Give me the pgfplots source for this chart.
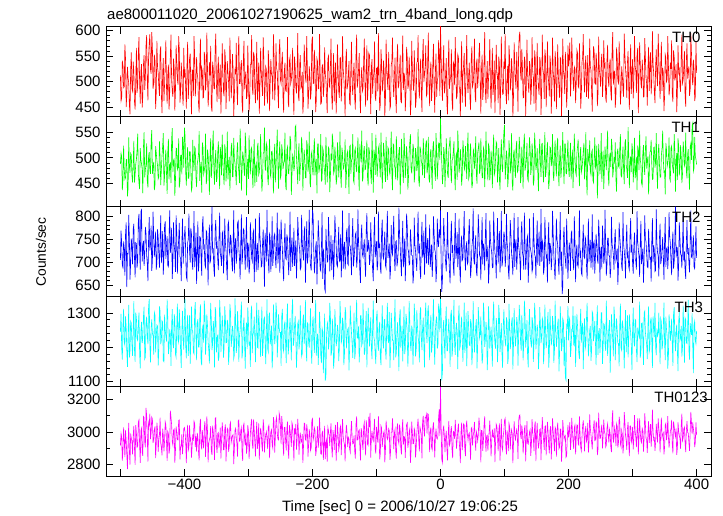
\documentclass[border=0pt]{standalone}
\usepackage{fontspec}
\setmainfont{Liberation Sans}
\usepackage{pgfplots}
\usepackage{pgfplotstable}
\pgfplotsset{compat=1.18}
\newcommand{\lab}{\fontsize{15bp}{18bp}\selectfont}
\pgfplotstableread{
t a b c d e
-500 512 488 705 1245 2915
-499 462 509 768 1297 2991
-498 468 502 742 1198 2968
-497 541 437 693 1164 2823
-496 531 455 688 1262 2890
-495 488 524 745 1312 3028
-494 490 478 731 1215 2952
-493 573 458 671 1206 2844
-492 545 461 760 1290 3010
-491 450 496 786 1259 2947
-490 472 497 646 1188 2862
-489 529 425 719 1143 2770
-488 507 440 718 1231 2931
-487 497 540 802 1323 3056
-486 455 483 752 1170 2885
-485 436 471 662 1190 2799
-484 522 509 698 1276 2990
-483 557 506 751 1271 2962
-482 486 466 735 1209 2943
-481 481 452 695 1175 2861
-480 539 491 771 1254 2978
-479 519 533 783 1334 3037
-478 461 452 709 1192 2897
-477 445 468 667 1158 2797
-476 503 488 742 1301 3042
-475 566 497 740 1286 2993
-474 478 515 688 1225 2905
-473 492 547 703 1220 2912
-472 556 470 790 1268 3060
-471 587 451 804 1301 3074
-470 497 439 728 1183 2920
-469 457 519 684 1139 2809
-468 520 496 810 1247 3005
-467 534 488 813 1274 3021
-466 449 478 701 1212 2874
-465 471 431 730 1227 2852
-464 533 521 746 1289 3095
-463 552 550 692 1318 3089
-462 484 462 719 1166 2938
-461 508 477 776 1171 2905
-460 571 488 762 1271 3148
-459 591 528 715 1289 3102
-458 502 455 697 1234 2966
-457 463 442 659 1209 2817
-456 548 503 751 1318 3060
-455 575 511 797 1340 3044
-454 593 476 725 1207 3112
-453 524 469 738 1156 2956
-452 515 534 779 1256 2995
-451 597 554 681 1281 3091
-450 566 469 703 1241 3079
-449 486 482 809 1233 2932
-448 497 492 758 1179 2958
-447 553 437 712 1302 3012
-446 542 447 732 1294 3034
-445 446 523 766 1185 2838
-444 478 510 684 1230 2927
-443 580 495 699 1265 3057
-442 529 485 771 1262 3015
-441 517 459 754 1147 2877
-440 491 463 719 1196 2949
-439 472 532 688 1319 2983
-438 560 501 745 1305 3088
-437 569 447 801 1209 2931
-436 474 478 698 1221 2902
-435 438 505 725 1277 2856
-434 518 523 767 1273 3020
-433 546 548 673 1161 2979
-432 462 446 712 1158 2880
-431 495 463 779 1295 2944
-430 536 497 788 1249 3062
-429 581 516 707 1233 3046
-428 488 470 736 1217 2941
-427 457 430 756 1339 2822
-426 514 512 693 1284 3003
-425 533 537 690 1180 2990
-424 445 458 752 1199 2866
-423 478 486 812 1252 2896
-422 551 489 720 1238 3131
-421 592 451 737 1146 3092
-420 503 536 774 1265 3045
-419 481 558 664 1311 2939
-418 470 472 701 1211 2918
-417 545 494 786 1198 3011
-416 527 497 737 1296 3019
-415 443 426 722 1284 2809
-414 482 456 679 1180 2884
-413 571 519 801 1171 3034
-412 539 518 763 1258 2996
-411 504 477 675 1327 2952
-410 494 481 722 1223 2950
-409 589 538 749 1214 3071
-408 563 442 785 1310 3074
-407 459 453 712 1262 2830
-406 476 505 708 1192 2903
-405 537 505 659 1140 2914
-404 517 468 741 1246 2987
-403 476 541 794 1306 2863
-402 453 527 696 1226 2925
-401 566 481 733 1193 3020
-400 508 559 758 1279 3027
-399 524 543 778 1340 2998
-398 487 471 717 1204 2936
-397 447 446 668 1168 2808
-396 531 499 662 1260 2978
-395 578 521 742 1294 3043
-394 466 460 749 1175 2887
-393 493 460 805 1227 2903
-392 544 512 725 1293 3041
-391 555 512 699 1152 2948
-390 491 478 774 1219 2960
-389 436 437 761 1318 2841
-388 523 443 703 1251 2911
-387 522 535 684 1246 2985
-386 472 496 738 1186 2945
-385 589 474 810 1181 3066
-384 550 521 689 1308 3052
-383 471 518 715 1331 2907
-382 497 462 764 1236 2972
-381 548 443 653 1163 2879
-380 515 489 721 1269 2994
-379 505 496 788 1282 2969
-378 458 507 680 1201 2878
-377 439 552 706 1201 2824
-376 536 455 755 1285 3033
-375 584 481 753 1325 3081
-374 483 492 711 1160 2920
-373 527 432 671 1148 2893
-372 521 530 779 1248 3011
-371 468 520 799 1266 2940
-370 469 468 730 1214 2898
-369 558 475 735 1336 3024
-368 547 485 694 1300 3066
-367 483 547 689 1179 2846
-366 500 449 768 1227 2953
-365 596 457 765 1296 3096
-364 528 516 716 1265 3008
-363 451 506 650 1215 2812
-362 476 479 747 1193 2929
-361 538 428 781 1153 2953
-360 512 503 699 1241 2967
-359 570 538 704 1329 3035
-358 452 461 756 1281 2885
-357 441 482 820 1192 2858
-356 539 525 722 1208 3039
-355 527 553 727 1276 3000
-354 487 477 684 1254 2942
-353 486 448 669 1142 2827
-352 565 498 770 1317 3083
-351 594 515 791 1305 3087
-350 494 453 734 1185 2916
-349 460 461 741 1224 2871
-348 519 510 706 1237 2990
-347 549 532 683 1161 2996
-346 466 484 751 1172 2903
-345 512 439 807 1338 2932
-344 533 521 719 1296 3026
-343 437 508 710 1186 2836
-342 489 466 692 1226 2949
-341 575 545 762 1292 3058
-340 523 495 766 1259 3001
-339 480 467 676 1170 2890
-338 471 447 713 1199 2890
-337 563 526 794 1319 3016
-336 546 514 742 1283 3047
-335 446 454 724 1213 2818
-334 498 480 687 1214 2936
-333 540 551 661 1280 3022
-332 517 458 781 1266 3014
-331 498 481 787 1149 2877
-330 461 502 724 1189 2911
-329 586 437 716 1326 3044
-328 538 475 759 1303 3058
-327 467 520 749 1201 2935
-326 492 529 701 1222 2958
-325 554 463 680 1262 2977
-324 525 463 735 1248 2983
-323 432 539 812 1167 2801
-322 470 497 676 1177 2893
-321 521 490 736 1342 3010
-320 514 470 752 1277 3022
-319 576 447 697 1184 2963
-318 483 511 717 1206 2927
-317 454 530 785 1305 2847
-316 552 488 789 1258 3069
-315 589 473 729 1158 3073
-314 496 451 708 1234 2943
-313 496 557 663 1249 2946
-312 528 519 744 1291 3009
-311 542 436 803 1333 3028
-310 459 476 695 1168 2874
-309 439 512 718 1192 2821
-308 541 503 772 1262 3037
-307 580 479 769 1286 3052
-306 485 465 721 1211 2952
-305 508 549 684 1138 2918
-304 520 527 747 1247 2996
-303 466 427 797 1272 2866
-302 474 482 688 1195 2908
-301 571 498 742 1316 3041
-300 506 459 733 1271 3004
-299 441 544 675 1205 2833
-298 467 493 694 1216 2915
-297 533 468 786 1143 2990
-296 534 516 751 1298 3045
-295 591 520 709 1321 3080
-294 489 474 702 1183 2929
-293 474 441 762 1236 2894
-292 558 500 768 1245 3077
-291 550 536 657 1289 3011
-290 481 445 716 1227 2938
-289 458 484 794 1157 2849
-288 512 489 679 1264 2987
-287 578 453 723 1330 3062
-286 463 522 741 1200 2896
-285 501 529 683 1198 2935
-284 537 467 707 1309 3052
-283 437 472 806 1263 2829
-282 495 498 755 1221 2961
-281 566 546 731 1172 3024
-280 518 481 690 1254 2992
-279 495 434 692 1318 2912
-278 472 456 738 1175 2880
-277 587 508 771 1209 3077
-276 543 511 714 1281 3030
-275 453 559 647 1287 2874
-274 486 477 763 1219 2947
-273 529 476 738 1151 2984
-272 524 528 701 1242 3001
-271 472 522 813 1339 2951
-270 457 462 729 1196 2895
-269 561 447 703 1187 3030
-268 532 495 676 1288 3041
-267 442 537 764 1301 2838
-266 499 468 747 1209 2955
-265 544 462 679 1226 3001
-264 515 512 720 1263 3013
-263 509 513 799 1139 2920
-262 465 483 692 1182 2901
-261 593 431 716 1325 3091
-260 548 499 756 1270 3063
-259 463 527 761 1209 2873
-258 491 452 711 1231 2968
-257 575 481 687 1330 3068
-256 526 518 738 1302 3090
-255 520 555 807 1171 2992
-254 478 487 697 1216 2956
-253 448 440 719 1296 2951
-252 559 504 772 1257 3117
-251 583 532 677 1243 3097
-250 503 461 725 1243 3034
-249 496 466 792 1146 2925
-248 537 526 751 1290 3098
-247 558 514 729 1312 3046
-246 469 478 686 1197 2925
-245 439 488 659 1188 2854
-244 520 494 733 1266 3027
-243 537 549 784 1274 3029
-242 482 447 709 1211 2948
-241 481 437 706 1154 2886
-240 511 515 760 1284 3018
-239 587 521 752 1327 3063
-238 460 470 702 1179 2890
-237 450 469 672 1201 2836
-236 541 492 739 1253 3041
-235 548 543 809 1285 3010
-234 496 532 681 1227 2972
-233 503 428 731 1162 2908
-232 523 468 753 1305 3056
-231 566 506 690 1341 3039
-230 476 501 719 1204 2938
-229 435 474 774 1216 2823
-228 549 484 692 1262 3022
-227 529 560 714 1291 2985
-226 490 563 747 1233 3049
-225 477 502 665 1141 2891
-224 516 476 710 1192 2957
-223 595 449 797 1269 3081
-222 471 509 765 1276 3003
-221 462 528 739 1194 2860
-220 533 455 728 1218 2964
-219 552 483 684 1322 2996
-218 487 492 688 1249 2933
-217 490 541 802 1173 2940
-216 519 518 745 1181 2986
-215 437 436 721 1279 2809
-214 462 480 704 1295 2910
-213 573 516 766 1210 3054
-212 545 497 777 1239 3052
-211 508 461 655 1337 2953
-210 498 461 721 1202 2947
-209 589 534 788 1159 3047
-208 527 524 697 1271 3012
-207 447 473 710 1268 2847
-206 474 485 752 1213 2923
-205 530 551 813 1199 3015
-204 512 452 716 1257 2979
-203 465 443 692 1313 2885
-202 481 506 682 1190 2901
-201 579 512 745 1152 3070
-200 588 479 813 1266 3081
-199 496 466 803 1290 2949
-198 497 513 726 1225 2970
-197 562 538 676 1184 3025
-196 528 466 699 1283 3008
-195 440 490 733 1337 2852
-194 464 498 745 1176 2884
-193 545 431 652 1215 2964
-192 539 527 711 1240 3035
-191 486 527 790 1149 2903
-190 486 471 758 1208 2944
-189 593 480 719 1303 3088
-188 520 492 685 1262 2994
-187 456 546 681 1176 2865
-186 458 455 730 1154 2862
-185 531 457 808 1256 2996
-184 533 519 664 1247 3003
-183 470 513 729 1125 2827
-182 490 483 707 1198 2922
-181 567 474 643 1298 3037
-180 515 448 637 1103 2832
-179 503 541 772 1114 2933
-178 470 501 739 1231 2951
-177 438 452 700 1267 2816
-176 544 486 702 1274 3029
-175 550 520 797 1194 3008
-174 492 517 756 1215 2977
-173 489 433 680 1329 2912
-172 526 463 718 1296 2999
-171 584 508 758 1176 3052
-170 473 495 683 1187 2907
-169 445 547 711 1283 2843
-168 509 530 748 1253 3011
-167 556 469 662 1138 2977
-166 461 474 713 1170 2889
-165 512 522 801 1311 3000
-164 537 502 767 1264 3043
-163 437 448 737 1203 2820
-162 484 458 695 1219 2930
-161 573 530 690 1265 3060
-160 521 511 731 1247 2986
-159 481 462 776 1160 2889
-158 468 487 702 1198 2913
-157 546 551 705 1334 3022
-156 547 465 760 1287 3037
-155 461 442 667 1214 2857
-154 500 520 721 1222 2981
-153 589 509 812 1286 3079
-152 524 478 686 1269 2973
-151 507 481 726 1148 2940
-150 477 494 744 1181 2920
-149 433 536 684 1317 2818
-148 539 441 707 1301 2975
-147 564 465 763 1197 3043
-146 485 508 773 1230 2994
-145 493 513 697 1252 2907
-144 512 481 694 1256 2966
-143 540 430 806 1133 2956
-142 457 522 737 1195 2897
-141 455 524 734 1321 2874
-140 530 469 715 1277 3002
-139 578 495 672 1240 3067
-138 493 499 752 1209 2957
-137 474 546 795 1169 2926
-136 518 456 691 1243 2931
-135 537 451 708 1301 2978
-134 466 514 728 1166 2880
-133 445 519 760 1185 2835
-132 551 483 764 1283 3049
-131 592 472 688 1338 3095
-130 488 505 706 1227 2950
-129 500 540 814 1227 2952
-128 525 470 740 1261 3005
-127 556 436 722 1156 3013
-126 472 527 679 1201 2911
-125 438 507 655 1292 2824
-124 510 491 757 1292 3023
-123 528 553 781 1205 3001
-122 481 454 717 1214 2927
-121 486 461 711 1328 2889
-120 543 512 734 1250 3036
-119 584 523 749 1178 3059
-118 495 477 698 1189 2939
-117 451 478 668 1264 2855
-116 520 503 769 1305 3071
-115 571 534 806 1142 3033
-114 463 462 723 1221 2924
-113 493 446 733 1315 2916
-112 556 521 748 1273 3094
-111 552 512 694 1203 3029
-110 509 484 705 1242 3118
-109 436 470 786 1287 2841
-108 528 449 741 1197 2966
-107 544 548 715 1166 3006
-106 476 498 682 1264 2958
-105 508 432 659 1336 2945
-104 517 516 757 1229 3012
-103 579 505 798 1219 3080
-102 470 467 711 1180 2893
-101 462 545 727 1151 2867
-100 526 503 745 1287 3031
-99 527 463 682 1307 2984
-98 481 486 697 1209 2935
-97 595 518 809 1190 3098
-96 512 524 731 1254 2996
-95 443 483 740 1274 2830
-94 455 462 688 1173 2867
-93 563 549 675 1148 3037
-92 538 497 767 1246 3024
-91 481 440 792 1322 2908
-90 490 478 714 1216 2950
-89 541 529 708 1197 2992
-88 519 511 736 1280 3005
-87 432 474 766 1281 2812
-86 467 453 693 1192 2889
-85 582 541 687 1164 3069
-84 531 489 758 1261 3017
-83 499 457 811 1329 2954
-82 484 520 709 1225 2963
-81 558 516 724 1212 3019
-80 507 474 740 1302 3008
-79 447 468 663 1140 2828
-78 452 502 683 1195 2879
-77 532 551 780 1300 2998
-76 540 468 722 1258 3000
-75 586 437 716 1221 3083
-74 496 527 763 1219 2983
-73 470 525 800 1163 2894
-72 513 485 707 1276 2994
-71 547 480 681 1339 3016
-70 469 458 744 1171 2883
-69 438 542 746 1183 2835
-68 544 505 691 1244 3026
-67 574 456 701 1273 3052
-66 487 489 726 1210 2946
-65 494 513 818 1131 2926
-64 521 521 762 1285 3045
-63 553 429 733 1311 3011
-62 461 470 700 1198 2900
-61 459 537 670 1227 2861
-60 533 496 737 1263 3013
-59 590 475 789 1159 3077
-58 484 451 689 1229 2921
-57 517 548 712 1319 2971
-56 509 516 751 1180 2968
-55 442 461 659 1196 2840
-54 476 483 712 1297 2989
-53 568 523 805 1282 3044
-52 548 501 780 1240 3055
-51 486 438 729 1144 2901
-50 493 463 723 1205 2936
-49 549 509 694 1334 3002
-48 516 530 696 1271 3019
-47 434 546 771 1208 2809
-46 458 479 745 1189 2887
-45 580 470 715 1263 3063
-44 527 494 714 1251 2998
-43 503 527 654 1150 2927
-42 482 517 672 1224 2928
-41 561 452 796 1327 3020
-40 512 472 738 1282 3006
-39 449 519 723 1174 2843
-38 465 507 701 1193 2902
-37 538 474 681 1308 2993
-36 539 485 757 1261 3040
-35 591 556 809 1229 3082
-34 491 456 719 1216 2947
-33 467 444 740 1156 2880
-32 524 522 684 1299 3029
-31 545 515 664 1317 3009
-30 478 493 742 1231 2985
-29 440 488 787 1192 2837
-28 550 466 710 1256 3064
-27 583 538 718 1286 3099
-26 499 512 768 1208 3021
-25 513 461 673 1142 2972
-24 530 488 725 1288 3089
-23 571 526 803 1330 3087
-22 472 534 697 1242 3108
-21 476 470 736 1212 2990
-20 541 481 752 1303 3112
-19 596 541 694 1322 3108
-18 496 459 716 1224 2991
-17 452 452 781 1163 2876
-16 517 508 690 1265 3003
-15 539 517 711 1294 3028
-14 462 476 738 1185 2906
-13 488 439 668 1207 2889
-12 535 519 702 1276 3027
-11 574 532 799 1339 3058
-10 487 497 761 1219 2975
-9 439 479 727 1150 2843
-8 522 455 721 1248 2968
-7 555 548 657 1278 3020
-6 470 513 684 1290 2962
-5 501 458 794 1196 2957
-4 509 486 746 1209 2978
-3 581 529 733 1327 3091
-2 552 528 771 1312 3139
-1 472 496 752 1244 2974
0 611 577 812 1341 3276
1 548 532 700 1301 3030
2 498 490 636 1104 2831
3 462 449 661 1128 2810
4 534 467 726 1258 3009
5 571 521 795 1279 3039
6 477 509 755 1212 2976
7 487 443 725 1168 2876
8 515 482 698 1281 2968
9 546 538 680 1318 3007
10 454 501 734 1190 2897
11 436 469 808 1190 2824
12 529 461 711 1247 2980
13 582 516 716 1283 3068
14 486 526 680 1225 2918
15 503 541 654 1143 2931
16 510 478 749 1294 3003
17 563 451 789 1309 3035
18 463 495 720 1173 2890
19 443 498 737 1199 2838
20 538 512 692 1266 3003
21 534 532 671 1338 2999
22 493 470 742 1208 2957
23 587 437 806 1178 3074
24 521 503 707 1253 2995
25 468 508 721 1271 2897
26 472 457 765 1229 2953
27 553 553 689 1137 3011
28 547 520 718 1286 3051
29 491 471 794 1322 2952
30 485 484 687 1196 2897
31 430 517 656 1204 2808
32 516 498 739 1263 3001
33 579 446 757 1289 3057
34 459 467 704 1218 2888
35 511 534 707 1158 2963
36 532 514 758 1239 3050
37 556 480 810 1330 3043
38 480 476 715 1184 2892
39 451 523 682 1216 2851
40 526 491 733 1301 3032
41 591 459 745 1145 3069
42 497 522 696 1223 2986
43 478 549 700 1305 2949
44 512 459 761 1258 2986
45 537 465 793 1207 2994
46 468 505 722 1205 2933
47 444 528 666 1282 2827
48 543 484 689 1269 3021
49 569 441 733 1148 3028
50 490 450 747 1190 2917
51 496 513 816 1334 2977
52 519 517 706 1248 2998
53 584 479 695 1185 3062
54 473 493 738 1228 2957
55 460 542 758 1261 2884
56 534 468 680 1282 3002
57 545 450 670 1139 2986
58 487 509 726 1201 2944
59 509 519 803 1317 2980
60 552 530 764 1276 3088
61 576 469 714 1226 3045
62 501 478 711 1236 2995
63 437 538 661 1290 2812
64 523 496 743 1214 3009
65 553 461 797 1153 3008
66 464 461 695 1173 2883
67 485 520 740 1330 2944
68 537 515 730 1299 3041
69 597 443 682 1201 3096
70 484 482 753 1221 2963
71 458 551 806 1273 2878
72 511 503 702 1252 2976
73 540 478 712 1134 2979
74 466 456 736 1187 2884
75 506 526 654 1319 2955
76 529 521 684 1264 3001
77 583 456 790 1196 3070
78 491 474 749 1230 2958
79 447 514 731 1260 2849
80 517 492 721 1205 2947
81 566 441 688 1144 3016
82 474 510 689 1281 2970
83 492 545 809 1333 2967
84 541 467 758 1245 3022
85 438 473 719 1211 2814
86 495 499 712 1196 2939
87 572 531 665 1285 3048
88 520 527 740 1267 3036
89 510 452 795 1157 2979
90 458 483 697 1214 2881
91 549 519 733 1323 3002
92 535 458 767 1291 3053
93 435 438 678 1186 2823
94 488 501 718 1228 2958
95 588 536 811 1270 3080
96 512 485 691 1182 2905
97 475 472 702 1140 2887
98 476 519 734 1259 2977
99 539 551 766 1310 3007
100 525 564 756 1240 3071
101 593 458 690 1215 3084
102 481 479 708 1203 2913
103 456 514 804 1287 2862
104 509 498 742 1276 3009
105 531 443 728 1152 2961
106 463 463 681 1171 2882
107 571 534 663 1326 3053
108 544 512 728 1262 3031
109 483 470 791 1195 2892
110 497 488 759 1219 2981
111 546 548 719 1273 3013
112 518 452 703 1287 2987
113 432 436 672 1136 2807
114 470 506 735 1206 2928
115 577 516 806 1314 3066
116 536 481 690 1245 2997
117 503 461 738 1203 2946
118 486 519 749 1228 2978
119 558 533 684 1288 3021
120 513 472 714 1270 2984
121 441 475 797 1147 2833
122 562 496 737 1231 3067
123 590 541 723 1323 3100
124 598 513 706 1283 3105
125 517 451 661 1220 2982
126 502 466 764 1190 2955
127 564 522 788 1294 3040
128 527 489 721 1253 3002
129 468 440 712 1162 2868
130 469 524 684 1212 2934
131 549 547 807 1336 3016
132 540 475 742 1296 3041
133 433 483 684 1199 2819
134 491 501 709 1225 2948
135 582 529 749 1279 3067
136 516 460 756 1176 2930
137 496 455 656 1142 2924
138 478 497 698 1259 2957
139 540 540 794 1311 3000
140 531 516 733 1237 3014
141 455 467 725 1217 2852
142 485 482 717 1199 2924
143 587 528 679 1288 3079
144 520 509 686 1272 2996
145 507 446 806 1158 2960
146 457 456 748 1210 2882
147 561 549 717 1329 3038
148 546 521 712 1289 3064
149 441 476 665 1194 2820
150 493 486 740 1222 2977
151 576 519 790 1266 3055
152 511 469 694 1248 2955
153 489 435 734 1137 2899
154 474 504 766 1186 2934
155 548 537 692 1317 3014
156 538 490 719 1265 3019
157 435 463 815 1212 2826
158 482 527 701 1230 2977
159 592 528 746 1285 3091
160 524 474 738 1278 2998
161 514 452 673 1151 2950
162 466 498 689 1197 2889
163 563 550 797 1324 3032
164 549 463 753 1255 3036
165 450 474 710 1198 2856
166 490 511 714 1213 2968
167 579 531 656 1276 3062
168 515 480 745 1302 3002
169 496 439 786 1141 2913
170 471 456 696 1179 2867
171 551 521 741 1312 3010
172 533 519 732 1244 3035
173 437 484 683 1206 2830
174 487 495 708 1221 2950
175 586 546 811 1291 3083
176 519 468 760 1267 3003
177 502 455 716 1155 2946
178 461 507 683 1192 2881
179 560 534 662 1336 3029
180 537 486 725 1250 3018
181 446 464 794 1201 2847
182 494 523 749 1226 2994
183 573 539 738 1270 3057
184 512 477 702 1283 2982
185 491 445 673 1130 2896
186 468 497 737 1185 2906
187 547 524 808 1319 3018
188 545 461 692 1261 3017
189 432 478 722 1189 2816
190 499 510 631 1208 2900
191 584 550 647 1284 3072
192 521 483 754 1276 3009
193 510 449 776 1145 2953
194 476 527 718 1230 2972
195 558 527 704 1112 2978
196 528 470 686 1105 2844
197 449 469 794 1269 2852
198 484 504 741 1253 2963
199 571 535 664 1320 3043
200 530 481 705 1220 2966
201 548 463 742 1286 2998
202 577 493 728 1279 3061
203 471 529 681 1172 2889
204 503 458 760 1197 2946
205 586 490 768 1251 3087
206 541 516 711 1247 3010
207 503 441 703 1319 2941
208 482 489 683 1208 2895
209 529 547 799 1205 3026
210 525 501 747 1292 3043
211 458 472 657 1143 2861
212 496 466 721 1229 2964
213 562 508 738 1297 3044
214 556 521 695 1264 3042
215 491 536 690 1223 2925
216 488 478 738 1183 2919
217 575 445 812 1166 3096
218 519 507 709 1258 2983
219 447 521 725 1312 2902
220 474 472 676 1214 2883
221 538 479 672 1258 2968
222 548 495 741 1271 3040
223 593 513 781 1137 3071
224 509 529 712 1235 3002
225 479 458 709 1284 2880
226 533 483 754 1196 3001
227 551 550 748 1206 3037
228 470 460 693 1283 2941
229 506 427 663 1329 2954
230 552 517 730 1248 3056
231 466 496 794 1174 2872
232 497 490 701 1209 2939
233 584 534 727 1249 3108
234 529 474 748 1262 3024
235 523 467 688 1161 2983
236 483 511 717 1189 2938
237 441 515 803 1303 2893
238 516 456 684 1297 2987
239 569 452 740 1218 3029
240 560 498 745 1242 3072
241 497 540 675 1276 2946
242 495 481 711 1215 2951
243 556 486 761 1148 3062
244 537 524 739 1270 3053
245 452 421 706 1322 2857
246 476 469 697 1178 2892
247 588 527 792 1237 3119
248 524 502 758 1256 3024
249 512 468 658 1183 2960
250 490 487 719 1225 2962
251 540 548 733 1301 3018
252 555 453 686 1301 3045
253 470 491 779 1152 2898
254 501 514 742 1203 2977
255 581 439 697 1268 3075
256 529 479 708 1265 3003
257 534 522 813 1209 2987
258 468 496 731 1190 2907
259 459 476 671 1336 2918
260 541 519 694 1247 3023
261 572 553 752 1175 3048
262 504 467 752 1221 2981
263 489 445 715 1259 2934
264 532 500 713 1279 3015
265 545 510 666 1126 2991
266 479 482 685 1206 2906
267 463 537 798 1296 2876
268 563 522 738 1258 3073
269 597 462 729 1221 3133
270 494 475 716 1174 2934
271 518 499 684 1318 2962
272 520 493 749 1287 3027
273 449 530 771 1163 3005
274 472 458 702 1232 2912
275 567 434 708 1284 3052
276 546 510 729 1249 3035
277 501 518 651 1212 2903
278 497 484 690 1211 2935
279 579 481 786 1145 3094
280 535 519 755 1266 3063
281 455 546 735 1327 2925
282 481 465 714 1197 2907
283 530 463 690 1191 3009
284 514 499 681 1278 2987
285 483 522 808 1262 2867
286 470 476 738 1215 2917
287 594 449 724 1139 3122
288 553 528 706 1242 3060
289 526 536 665 1308 2979
290 505 486 744 1185 2947
291 468 478 781 1230 2889
292 538 461 712 1293 3020
293 560 560 719 1171 3061
294 485 507 690 1226 2930
295 445 441 683 1296 2851
296 527 493 757 1263 3036
297 573 503 795 1242 3037
298 476 472 721 1207 2936
299 514 528 738 1134 2956
300 544 515 698 1250 3031
301 467 452 675 1315 2893
302 500 482 735 1219 2962
303 589 539 764 1203 3104
304 531 460 708 1281 3006
305 521 474 702 1278 2968
306 478 502 684 1192 2906
307 552 437 810 1157 3013
308 566 524 746 1257 3083
309 438 516 726 1243 2861
310 508 476 713 1233 2964
311 577 553 668 1333 3083
312 536 495 740 1170 2997
313 496 489 789 1185 2944
314 487 451 696 1269 2934
315 543 446 713 1271 3027
316 523 509 729 1224 3000
317 470 525 656 1149 2879
318 471 486 703 1300 2961
319 585 467 801 1305 3115
320 549 517 751 1244 3049
321 508 542 744 1224 2961
322 496 479 718 1209 2951
323 453 493 690 1166 2870
324 526 503 688 1262 2996
325 568 429 772 1319 3066
326 482 466 737 1187 2933
327 532 511 707 1196 2993
328 557 513 709 1276 3048
329 475 535 658 1287 2908
330 501 488 745 1218 2979
331 599 458 795 1140 3138
332 535 459 700 1290 3001
333 516 520 736 1258 2952
334 479 521 727 1230 2962
335 458 481 680 1329 2883
336 529 492 682 1200 2936
337 563 548 814 1177 3049
338 510 474 741 1255 2993
339 491 440 721 1233 2935
340 594 510 713 1239 3084
341 547 527 669 1301 3021
342 499 486 753 1221 2986
343 466 462 783 1151 2874
344 536 463 696 1283 3009
345 578 505 706 1274 3088
346 482 518 729 1194 2963
347 527 553 754 1208 2985
348 518 497 707 1260 2995
349 442 472 662 1330 2861
350 470 474 747 1216 2905
351 553 429 797 1163 3042
352 547 529 689 1289 3053
353 500 516 729 1252 2949
354 504 483 732 1231 2982
355 589 489 685 1138 3097
356 532 501 716 1175 2966
357 473 540 808 1296 2903
358 487 460 755 1264 2952
359 537 455 741 1219 3006
360 525 519 700 1243 3017
361 581 523 672 1283 3074
362 476 488 738 1212 2925
363 460 478 766 1146 2868
364 561 470 686 1296 3064
365 548 546 701 1317 3033
366 502 512 745 1227 2996
367 512 434 820 1189 2970
368 534 494 710 1251 3022
369 440 509 732 1266 2858
370 479 457 731 1189 2902
371 571 538 660 1131 3059
372 518 523 693 1275 3004
373 524 466 786 1302 2978
374 491 481 752 1220 2959
375 480 525 717 1227 2895
376 548 502 715 1262 3038
377 592 451 687 1173 3113
378 497 468 737 1201 2946
379 503 532 800 1321 2962
380 529 514 704 1248 3019
381 560 485 723 1155 3030
382 473 490 684 1286 2933
383 451 549 664 1280 2876
384 541 475 741 1213 3009
385 575 460 791 1211 3067
386 506 508 718 1257 2995
387 519 517 730 1338 2994
388 530 467 697 1191 2932
389 472 438 678 1164 2883
390 485 521 748 1270 3002
391 595 528 812 1249 3124
392 556 496 711 1236 3057
393 508 563 709 1299 2987
394 493 568 736 1204 3058
395 543 474 758 1125 3019
396 524 480 690 1266 2986
397 462 541 686 1276 2907
398 471 503 726 1219 2935
399 578 497 777 1210 3058
400 517 487 709 1248 2980
}\lc
\pgfplotsset{
  panel/.style={
    scale only axis, width=605bp, height=89.8bp,
    anchor=south west,
    xmin=-522.5, xmax=422.5,
    xtick={-500,-400,...,400},
    xticklabels={},
    tick align=inside, tick pos=both,
    major tick length=7bp, minor tick length=4bp,
    every tick/.style={black, line width=0.7bp},
    axis line style={black, line width=1bp},
    tick label style={font=\lab},
    /pgf/number format/assume math mode=true,
    /pgf/number format/1000 sep={},
    yticklabel style={xshift=-2bp},
    clip=true,
  },
  curve/.style={line width=0.6bp},
}
\begin{document}
\begin{tikzpicture}
\useasboundingbox (0bp,0bp) rectangle (723bp,516bp);
\node[anchor=base west, font=\lab, inner sep=0pt] at (107bp,496bp) {ae800011020\_20061027190625\_wam2\_trn\_4band\_long.qdp};
\node[anchor=base, font=\lab, inner sep=0pt] at (400bp,5bp) {Time [sec] 0 = 2006/10/27 19:06:25};
\node[rotate=90, anchor=center, font=\fontsize{13.8bp}{16bp}\selectfont, inner sep=0pt] at (41bp,264bp) {Counts/sec};
% TH0
\begin{axis}[panel, at={(106bp,399.2bp)}, ymin=431, ymax=607, ytick={450,500,550,600}, minor y tick num=4]
\addplot[curve, color={rgb,1:red,1;green,0;blue,0}] table[x=t,y=a] {\lc};
\node[anchor=base east, font=\lab, inner sep=0pt] at (rel axis cs:0.983,0.822) {TH0};
\end{axis}
% TH1
\begin{axis}[panel, at={(106bp,309.4bp)}, ymin=405, ymax=580, ytick={450,500,550}, minor y tick num=4]
\addplot[curve, color={rgb,1:red,0;green,1;blue,0}] table[x=t,y=b] {\lc};
\node[anchor=base east, font=\lab, inner sep=0pt] at (rel axis cs:0.982,0.822) {TH1};
\end{axis}
% TH2
\begin{axis}[panel, at={(106bp,219.6bp)}, ymin=626, ymax=820, ytick={650,700,750,800}, minor y tick num=4]
\addplot[curve, color={rgb,1:red,0;green,0;blue,1}] table[x=t,y=c] {\lc};
\node[anchor=base east, font=\lab, inner sep=0pt] at (rel axis cs:0.983,0.822) {TH2};
\end{axis}
% TH3
\begin{axis}[panel, at={(106bp,129.8bp)}, ymin=1087, ymax=1348, ytick={1100,1200,1300}, minor y tick num=4]
\addplot[curve, color={rgb,1:red,0;green,1;blue,1}] table[x=t,y=d] {\lc};
\node[anchor=base east, font=\lab, inner sep=0pt] at (rel axis cs:0.987,0.822) {TH3};
\end{axis}
% TH0123
\begin{axis}[panel, at={(106bp,40bp)}, ymin=2728, ymax=3282, ytick={2800,3000,3200}, minor y tick num=1,
  xticklabels={,−400,,−200,,0,,200,,400}]
\addplot[curve, color={rgb,1:red,1;green,0;blue,1}] table[x=t,y=e] {\lc};
\node[anchor=base east, font=\lab, inner sep=0pt] at (rel axis cs:0.995,0.822) {TH0123};
\end{axis}
\end{tikzpicture}
\end{document}
